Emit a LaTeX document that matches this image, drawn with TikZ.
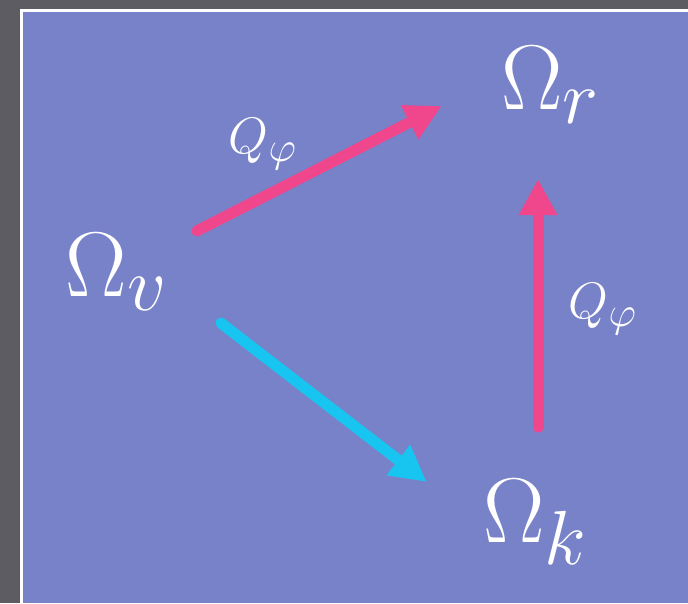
\documentclass[tikz,border=0pt]{standalone}
\usepackage{xcolor}
\usepackage{tikz}
\usetikzlibrary{arrows.meta,positioning}

\definecolor{slate}{RGB}{92,92,98}
\definecolor{panel}{RGB}{120,130,200}
\definecolor{rose}{RGB}{240,70,140}
\definecolor{sky}{RGB}{24,196,240}

\begin{document}
\begin{tikzpicture}[x=0.5pt,y=-0.5pt,
  big/.style={text=white,inner sep=0pt,font=\Huge,scale=1.85},
  lbl/.style={text=white,inner sep=0pt,font=\Huge,scale=1.03},
  flow/.style={line width=5.5pt,line cap=round,-{Triangle[length=18pt,width=18pt]}}]
\useasboundingbox (0,0) rectangle (688,603);
\fill[slate] (0,0) rectangle (688,603);
\fill[panel] (21,11) rectangle (688,603);
\draw[white,line width=1.5pt] (21,603) |- (688,11);

\node[big] (v) at (117,272) {$\Omega_v$};
\node[big] (r) at (551,85) {$\Omega_r$};
\node[big] (k) at (536,522) {$\Omega_k$};
\node[lbl] (qa) at (263,144) {$Q_\varphi$};
\node[lbl] (qb) at (603,309) {$Q_\varphi$};

\draw[flow,rose] ([shift={(28,-2)}]v.north east) -- ([shift={(-59,21)}]r.west);
\draw[flow,rose] ([shift={(2,-52)}]k.north) -- ([shift={(-13,55)}]r.south);
\draw[flow,sky] ([shift={(52,12)}]v.south east) -- ([shift={(-56,-40)}]k.west);
\end{tikzpicture}
\end{document}
